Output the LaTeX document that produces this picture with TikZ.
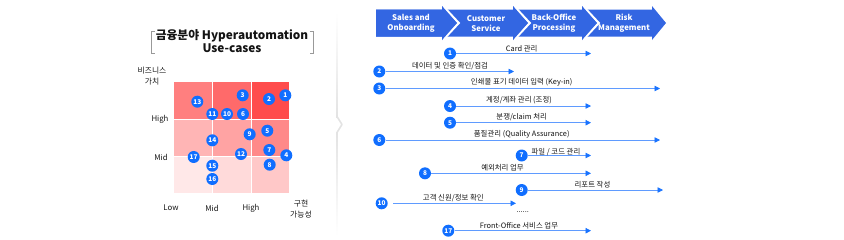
\documentclass[tikz,border=0pt]{standalone}
\usepackage{fontspec}
\setmainfont{Noto Sans CJK KR}
\usetikzlibrary{arrows.meta}
\definecolor{hdrblue}{RGB}{51,102,226}
\definecolor{numblue}{RGB}{16,110,255}
\definecolor{lineblue}{RGB}{95,155,255}
\definecolor{headblue}{RGB}{25,115,255}
\definecolor{txt}{RGB}{20,20,20}
\tikzset{
  num/.style={circle, fill=numblue, text=white, inner sep=0pt, minimum size=12pt,
    font=\bfseries\fontsize{6.5}{6.5}\selectfont},
  flow/.style={draw=lineblue, line width=0.8pt, -{Triangle[length=5.5pt,width=5.5pt,color=headblue]}},
  lbl/.style={text=txt, inner sep=0pt, font=\fontsize{7.4}{8}\selectfont},
  axis/.style={text=txt, inner sep=0pt, align=center, font=\fontsize{7.8}{11}\selectfont},
  hdr/.style={fill=hdrblue},
  hdrtxt/.style={text=white, align=center, inner sep=0pt, font=\bfseries\fontsize{7.8}{10}\selectfont},
  sep/.style={draw=white, line width=2.4pt, line join=miter},
}
\begin{document}
\begin{tikzpicture}[x=1pt,y=-1pt]
\useasboundingbox (0,0) rectangle (844,239);

% ---------- title ----------
\node[text=txt, align=center, inner sep=0pt, font=\bfseries\fontsize{11.8}{12.5}\selectfont] (title) at (232,41) {금융분야 Hyperautomation\\Use-cases};
\draw[gray!80, line width=0.8pt] (154.5,31.5) -- (151,31.5) -- (151,53.5) -- (154.5,53.5);
\draw[gray!80, line width=0.8pt] (309.5,31.5) -- (313,31.5) -- (313,53.5) -- (309.5,53.5);

% ---------- grid ----------
\fill[fill={rgb,255:red,255;green,127;blue,127}] (174,81.5) rectangle (212,119);
\fill[fill={rgb,255:red,255;green,106;blue,106}] (212,81.5) rectangle (251,119);
\fill[fill={rgb,255:red,255;green,76;blue,76}] (251,81.5) rectangle (289,119);
\fill[fill={rgb,255:red,255;green,181;blue,181}] (174,119) rectangle (212,156.5);
\fill[fill={rgb,255:red,255;green,163;blue,163}] (212,119) rectangle (251,156.5);
\fill[fill={rgb,255:red,255;green,137;blue,137}] (251,119) rectangle (289,156.5);
\fill[fill={rgb,255:red,255;green,232;blue,232}] (174,156.5) rectangle (212,193);
\fill[fill={rgb,255:red,255;green,218;blue,218}] (212,156.5) rectangle (251,193);
\fill[fill={rgb,255:red,255;green,200;blue,200}] (251,156.5) rectangle (289,193);
\draw[white, line width=0.8pt] (212,81.5) -- (212,193) (251,81.5) -- (251,193)
  (174,119) -- (289,119) (174,156.5) -- (289,156.5);

\node[axis] (yl) at (152,76.5) {비즈니스\\가치};
\node[axis] (yh) at (160,119.5) {High};
\node[axis] (ym) at (161,157) {Mid};
\node[axis] (xl) at (171,208) {Low};
\node[axis] (xm) at (212,208) {Mid};
\node[axis] (xh) at (251,208) {High};
\node[axis] (xt) at (301,209) {구현\\가능성};

\node[num] (g1)  at (285.3,95.3) {1};
\node[num] (g2)  at (269,99) {2};
\node[num] (g3)  at (242.7,95.3) {3};
\node[num] (g13) at (197.3,101.7) {13};
\node[num] (g11) at (212.3,114) {11};
\node[num] (g10) at (227,114) {10};
\node[num] (g6)  at (243,114) {6};
\node[num] (g9)  at (249.7,134.3) {9};
\node[num] (g5)  at (267.3,130.7) {5};
\node[num] (g14) at (212.3,140.3) {14};
\node[num] (g7)  at (269.3,150) {7};
\node[num] (g4)  at (286.3,155.3) {4};
\node[num] (g12) at (241,154) {12};
\node[num] (g17) at (193.7,157) {17};
\node[num] (g8)  at (269.7,164.7) {8};
\node[num] (g15) at (212.3,165.7) {15};
\node[num] (g16) at (212.3,179) {16};

% ---------- divider ----------
\shade[top color=white, bottom color=gray!22] (336.2,12) rectangle (337.8,117);
\shade[top color=gray!22, bottom color=white] (336.2,132) rectangle (337.8,236);
\draw[gray!22, line width=1.6pt, line join=round] (337,116.5) -- (342,124.5) -- (337,132.5);

% ---------- header chevrons ----------
\fill[hdr] (585,9.5) -- (652,9.5) -- (652,6) -- (666,23) -- (652,40) -- (652,36.5) -- (585,36.5) -- cycle;
\fill[hdr] (515,9.5) -- (582,9.5) -- (582,6) -- (597,23) -- (582,40) -- (582,36.5) -- (515,36.5) -- cycle;
\fill[hdr] (444,9.5) -- (513,9.5) -- (513,6) -- (528,23) -- (513,40) -- (513,36.5) -- (444,36.5) -- cycle;
\fill[hdr] (376,9.5) -- (442,9.5) -- (442,6) -- (457,23) -- (442,40) -- (442,36.5) -- (376,36.5) -- cycle;
\draw[sep] (443.2,6.5) -- (458.6,23) -- (443.2,39.5);
\draw[sep] (514.2,6.5) -- (529.6,23) -- (514.2,39.5);
\draw[sep] (583.2,6.5) -- (598.6,23) -- (583.2,39.5);
\fill[hdr] (376,9.5) -- (442,9.5) -- (442,6) -- (457,23) -- (442,40) -- (442,36.5) -- (376,36.5) -- cycle;
\fill[hdr] (513,9.5) -- (513,6) -- (528,23) -- (513,40) -- (513,36.5) -- cycle;
\fill[hdr] (582,9.5) -- (582,6) -- (597,23) -- (582,40) -- (582,36.5) -- cycle;
\node[hdrtxt] (h1) at (411,23.3) {Sales and\\Onboarding};
\node[hdrtxt] (h2) at (486,23.3) {Customer\\Service};
\node[hdrtxt] (h3) at (554,23.3) {Back-Office\\Processing};
\node[hdrtxt] (h4) at (624,23.3) {Risk\\Management};

% ---------- rows ----------
\node[num] (r1) at (450,53.5) {1};
\coordinate (e1) at (591,53.5);
\draw[flow] (r1) -- (e1);
\node[lbl] (t1) at (521.7,48.3) {Card 관리};

\node[num] (r2) at (379.3,71.5) {2};
\coordinate (e2) at (514,71.5);
\draw[flow] (r2) -- (e2);
\node[lbl] (t2) at (450,66.3) {데이터 및 인증 확인/점검};

\node[num] (r3) at (379.3,88.5) {3};
\coordinate (e3) at (660,88.5);
\draw[flow] (r3) -- (e3);
\node[lbl] (t3) at (521.7,82.8) {인쇄물 표기 데이터 입력 (Key-in)};

\node[num] (r4) at (450,106) {4};
\coordinate (e4) at (591,106);
\draw[flow] (r4) -- (e4);
\node[lbl] (t4) at (519,99.8) {계정/계좌 관리 (조정)};

\node[num] (r5) at (450,122.7) {5};
\coordinate (e5) at (591,122.7);
\draw[flow] (r5) -- (e5);
\node[lbl] (t5) at (521.7,116.8) {분쟁/claim 처리};

\node[num] (r6) at (379.3,140) {6};
\coordinate (e6) at (660,140);
\draw[flow] (r6) -- (e6);
\node[lbl] (t6) at (521.7,134.3) {품질관리 (Quality Assurance)};

\node[num] (r7) at (521.7,155.5) {7};
\coordinate (e7) at (591,155.5);
\draw[flow] (r7) -- (e7);
\node[lbl] (t7) at (556,151.8) {파일 / 코드 관리};

\node[num] (r8) at (425,173.3) {8};
\coordinate (e8) at (591,173.3);
\draw[flow] (r8) -- (e8);
\node[lbl] (t8) at (502.5,168.2) {예외처리 업무};

\node[num] (r9) at (521.7,190) {9};
\coordinate (e9) at (663,190);
\draw[flow] (r9) -- (e9);
\node[lbl] (t9) at (592.5,185) {리포트 작성};

\node[num] (r10) at (381.7,203.3) {10};
\coordinate (e10) at (516,203.3);
\draw[flow, shorten <=5.5pt] (r10) -- (e10);
\node[lbl] (t10) at (453.3,198.2) {고객 신원/정보 확인};

\node[lbl] (dots) at (522.7,212.5) {......};

\node[num] (r17) at (448.3,230.7) {17};
\coordinate (e17) at (591,230.7);
\draw[flow] (r17) -- (e17);
\node[lbl] (t17) at (519,225.8) {Front-Office 서비스 업무};
\end{tikzpicture}
\end{document}
